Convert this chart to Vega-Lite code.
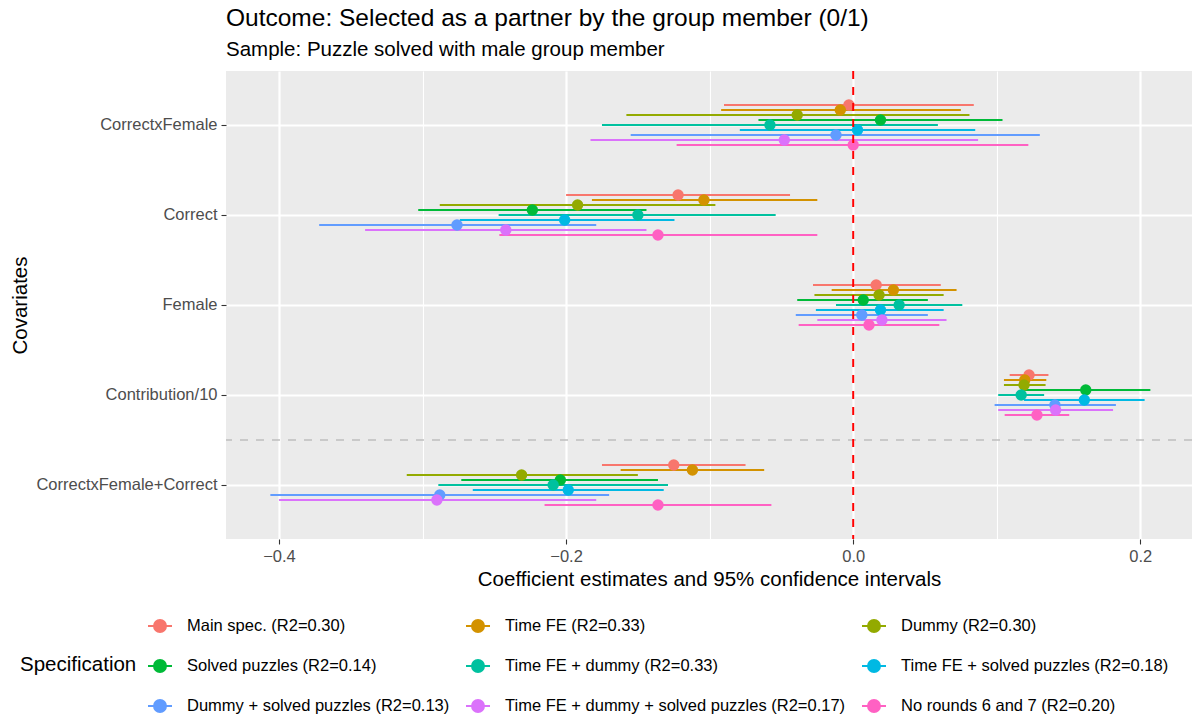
{
  "$schema": "https://vega.github.io/schema/vega-lite/v6.json",
  "autosize": {"type": "none"},
  "padding": {"left": 226, "top": 71, "right": 0, "bottom": 183},
  "width": 966,
  "height": 468,
  "title": {
    "text": "Outcome: Selected as a partner by the group member (0/1)",
    "subtitle": "Sample: Puzzle solved with male group member",
    "anchor": "start",
    "frame": "group",
    "font": "Liberation Sans",
    "fontSize": 24.5,
    "fontWeight": "normal",
    "color": "#000000",
    "subtitleFont": "Liberation Sans",
    "subtitleFontSize": 20.5,
    "subtitleColor": "#000000",
    "subtitlePadding": 8,
    "offset": 9
  },
  "config": {
    "view": {"fill": "#EBEBEB", "stroke": null},
    "font": "Liberation Sans"
  },
  "layer": [
    {
      "data": {
        "values": [
          {"covariate": "CorrectxFemale", "spec": "Main spec. (R2=0.30)", "estimate": -0.003, "lower": -0.090, "upper": 0.084},
          {"covariate": "CorrectxFemale", "spec": "Time FE (R2=0.33)", "estimate": -0.009, "lower": -0.092, "upper": 0.075},
          {"covariate": "CorrectxFemale", "spec": "Dummy (R2=0.30)", "estimate": -0.039, "lower": -0.158, "upper": 0.081},
          {"covariate": "CorrectxFemale", "spec": "Solved puzzles (R2=0.14)", "estimate": 0.019, "lower": -0.066, "upper": 0.104},
          {"covariate": "CorrectxFemale", "spec": "Time FE + dummy (R2=0.33)", "estimate": -0.058, "lower": -0.175, "upper": 0.059},
          {"covariate": "CorrectxFemale", "spec": "Time FE + solved puzzles (R2=0.18)", "estimate": 0.003, "lower": -0.079, "upper": 0.085},
          {"covariate": "CorrectxFemale", "spec": "Dummy + solved puzzles (R2=0.13)", "estimate": -0.012, "lower": -0.155, "upper": 0.130},
          {"covariate": "CorrectxFemale", "spec": "Time FE + dummy + solved puzzles (R2=0.17)", "estimate": -0.048, "lower": -0.183, "upper": 0.087},
          {"covariate": "CorrectxFemale", "spec": "No rounds 6 and 7 (R2=0.20)", "estimate": 0.000, "lower": -0.123, "upper": 0.122},

          {"covariate": "Correct", "spec": "Main spec. (R2=0.30)", "estimate": -0.122, "lower": -0.200, "upper": -0.044},
          {"covariate": "Correct", "spec": "Time FE (R2=0.33)", "estimate": -0.104, "lower": -0.182, "upper": -0.025},
          {"covariate": "Correct", "spec": "Dummy (R2=0.30)", "estimate": -0.192, "lower": -0.288, "upper": -0.096},
          {"covariate": "Correct", "spec": "Solved puzzles (R2=0.14)", "estimate": -0.2235, "lower": -0.303, "upper": -0.144},
          {"covariate": "Correct", "spec": "Time FE + dummy (R2=0.33)", "estimate": -0.150, "lower": -0.247, "upper": -0.054},
          {"covariate": "Correct", "spec": "Time FE + solved puzzles (R2=0.18)", "estimate": -0.201, "lower": -0.274, "upper": -0.1245},
          {"covariate": "Correct", "spec": "Dummy + solved puzzles (R2=0.13)", "estimate": -0.276, "lower": -0.372, "upper": -0.179},
          {"covariate": "Correct", "spec": "Time FE + dummy + solved puzzles (R2=0.17)", "estimate": -0.242, "lower": -0.340, "upper": -0.144},
          {"covariate": "Correct", "spec": "No rounds 6 and 7 (R2=0.20)", "estimate": -0.136, "lower": -0.2465, "upper": -0.025},

          {"covariate": "Female", "spec": "Main spec. (R2=0.30)", "estimate": 0.016, "lower": -0.028, "upper": 0.061},
          {"covariate": "Female", "spec": "Time FE (R2=0.33)", "estimate": 0.028, "lower": -0.015, "upper": 0.072},
          {"covariate": "Female", "spec": "Dummy (R2=0.30)", "estimate": 0.018, "lower": -0.027, "upper": 0.063},
          {"covariate": "Female", "spec": "Solved puzzles (R2=0.14)", "estimate": 0.007, "lower": -0.039, "upper": 0.052},
          {"covariate": "Female", "spec": "Time FE + dummy (R2=0.33)", "estimate": 0.032, "lower": -0.012, "upper": 0.076},
          {"covariate": "Female", "spec": "Time FE + solved puzzles (R2=0.18)", "estimate": 0.019, "lower": -0.026, "upper": 0.063},
          {"covariate": "Female", "spec": "Dummy + solved puzzles (R2=0.13)", "estimate": 0.006, "lower": -0.040, "upper": 0.052},
          {"covariate": "Female", "spec": "Time FE + dummy + solved puzzles (R2=0.17)", "estimate": 0.020, "lower": -0.025, "upper": 0.065},
          {"covariate": "Female", "spec": "No rounds 6 and 7 (R2=0.20)", "estimate": 0.011, "lower": -0.038, "upper": 0.060},

          {"covariate": "Contribution/10", "spec": "Main spec. (R2=0.30)", "estimate": 0.1225, "lower": 0.109, "upper": 0.136},
          {"covariate": "Contribution/10", "spec": "Time FE (R2=0.33)", "estimate": 0.1195, "lower": 0.105, "upper": 0.1345},
          {"covariate": "Contribution/10", "spec": "Dummy (R2=0.30)", "estimate": 0.119, "lower": 0.105, "upper": 0.134},
          {"covariate": "Contribution/10", "spec": "Solved puzzles (R2=0.14)", "estimate": 0.162, "lower": 0.117, "upper": 0.207},
          {"covariate": "Contribution/10", "spec": "Time FE + dummy (R2=0.33)", "estimate": 0.117, "lower": 0.101, "upper": 0.133},
          {"covariate": "Contribution/10", "spec": "Time FE + solved puzzles (R2=0.18)", "estimate": 0.161, "lower": 0.119, "upper": 0.203},
          {"covariate": "Contribution/10", "spec": "Dummy + solved puzzles (R2=0.13)", "estimate": 0.1405, "lower": 0.0985, "upper": 0.183},
          {"covariate": "Contribution/10", "spec": "Time FE + dummy + solved puzzles (R2=0.17)", "estimate": 0.141, "lower": 0.101, "upper": 0.181},
          {"covariate": "Contribution/10", "spec": "No rounds 6 and 7 (R2=0.20)", "estimate": 0.128, "lower": 0.1055, "upper": 0.1505},

          {"covariate": "CorrectxFemale+Correct", "spec": "Main spec. (R2=0.30)", "estimate": -0.125, "lower": -0.175, "upper": -0.075},
          {"covariate": "CorrectxFemale+Correct", "spec": "Time FE (R2=0.33)", "estimate": -0.112, "lower": -0.162, "upper": -0.062},
          {"covariate": "CorrectxFemale+Correct", "spec": "Dummy (R2=0.30)", "estimate": -0.231, "lower": -0.311, "upper": -0.150},
          {"covariate": "CorrectxFemale+Correct", "spec": "Solved puzzles (R2=0.14)", "estimate": -0.204, "lower": -0.273, "upper": -0.136},
          {"covariate": "CorrectxFemale+Correct", "spec": "Time FE + dummy (R2=0.33)", "estimate": -0.209, "lower": -0.289, "upper": -0.129},
          {"covariate": "CorrectxFemale+Correct", "spec": "Time FE + solved puzzles (R2=0.18)", "estimate": -0.1985, "lower": -0.265, "upper": -0.132},
          {"covariate": "CorrectxFemale+Correct", "spec": "Dummy + solved puzzles (R2=0.13)", "estimate": -0.288, "lower": -0.406, "upper": -0.170},
          {"covariate": "CorrectxFemale+Correct", "spec": "Time FE + dummy + solved puzzles (R2=0.17)", "estimate": -0.290, "lower": -0.400, "upper": -0.179},
          {"covariate": "CorrectxFemale+Correct", "spec": "No rounds 6 and 7 (R2=0.20)", "estimate": -0.136, "lower": -0.215, "upper": -0.057}
        ]
      },
      "encoding": {
        "y": {
          "field": "covariate",
          "type": "nominal",
          "scale": {
            "type": "band",
            "domain": ["CorrectxFemale", "Correct", "Female", "Contribution/10", "CorrectxFemale+Correct"],
            "paddingInner": 0,
            "paddingOuter": 0.1
          },
          "axis": {
            "orient": "left",
            "title": "Covariates",
            "grid": true,
            "gridColor": "#FFFFFF",
            "gridWidth": 2.2,
            "bandPosition": 0.5,
            "domain": false,
            "tickColor": "#333333",
            "tickSize": 5,
            "tickWidth": 1.1,
            "labelFontSize": 16.5,
            "labelColor": "#4D4D4D",
            "labelPadding": 4,
            "labelLimit": 400,
            "titleFontSize": 20.5,
            "titleFontWeight": "normal",
            "titleColor": "#000000",
            "titlePadding": 5
          }
        },
        "yOffset": {
          "field": "spec",
          "type": "nominal",
          "scale": {
            "domain": ["Main spec. (R2=0.30)", "Time FE (R2=0.33)", "Dummy (R2=0.30)", "Solved puzzles (R2=0.14)", "Time FE + dummy (R2=0.33)", "Time FE + solved puzzles (R2=0.18)", "Dummy + solved puzzles (R2=0.13)", "Time FE + dummy + solved puzzles (R2=0.17)", "No rounds 6 and 7 (R2=0.20)"],
            "range": [22.5, 67.5],
            "paddingInner": 0,
            "paddingOuter": 0
          }
        },
        "color": {
          "field": "spec",
          "type": "nominal",
          "scale": {
            "domain": ["Main spec. (R2=0.30)", "Time FE (R2=0.33)", "Dummy (R2=0.30)", "Solved puzzles (R2=0.14)", "Time FE + dummy (R2=0.33)", "Time FE + solved puzzles (R2=0.18)", "Dummy + solved puzzles (R2=0.13)", "Time FE + dummy + solved puzzles (R2=0.17)", "No rounds 6 and 7 (R2=0.20)"],
            "range": ["#F8766D", "#D39200", "#93AA00", "#00BA38", "#00C19F", "#00B9E3", "#619CFF", "#DB72FB", "#FF61C3"]
          },
          "legend": {
            "title": "Specification",
            "orient": "none",
            "legendX": -206,
            "legendY": 542,
            "direction": "horizontal",
            "columns": 3,
            "titleOrient": "left",
            "titleAnchor": "middle",
            "titleFontSize": 20.5,
            "titleFontWeight": "normal",
            "titleColor": "#000000",
            "titlePadding": 10,
            "labelFontSize": 16.5,
            "labelColor": "#000000",
            "labelLimit": 600,
            "labelOffset": 14,
            "symbolType": "M-1,0H1M-0.5,0A0.5,0.5,0,1,1,0.5,0A0.5,0.5,0,1,1,-0.5,0Z",
            "symbolSize": 576,
            "symbolStrokeWidth": 2,
            "symbolOpacity": 1,
            "rowPadding": 17,
            "columnPadding": 12,
            "encode": {
              "symbols": {
                "update": {
                  "stroke": {"scale": "color", "field": "value"},
                  "fill": {"scale": "color", "field": "value"}
                }
              }
            }
          }
        }
      },
      "layer": [
        {
          "mark": {"type": "rule", "strokeWidth": 2},
          "encoding": {
            "x": {
              "field": "lower",
              "type": "quantitative",
              "scale": {"domain": [-0.4369, 0.236], "nice": false, "zero": false},
              "axis": {
                "orient": "bottom",
                "values": [-0.3, -0.1, 0.1],
                "grid": true,
                "gridColor": "#FFFFFF",
                "gridWidth": 1.1,
                "labels": false,
                "ticks": false,
                "domain": false,
                "title": null
              }
            },
            "x2": {"field": "upper"}
          }
        },
        {
          "mark": {"type": "point", "filled": true, "opacity": 1, "size": 130},
          "encoding": {
            "x": {
              "field": "estimate",
              "type": "quantitative",
              "axis": {
                "orient": "bottom",
                "values": [-0.4, -0.2, 0, 0.2],
                "format": ".1f",
                "grid": true,
                "gridColor": "#FFFFFF",
                "gridWidth": 2.2,
                "domain": false,
                "labelFlush": false,
                "tickColor": "#333333",
                "tickSize": 5,
                "tickWidth": 1.1,
                "labelFontSize": 16.5,
                "labelColor": "#4D4D4D",
                "labelPadding": 4,
                "title": "Coefficient estimates and 95% confidence intervals",
                "titleFontSize": 20.5,
                "titleFontWeight": "normal",
                "titleColor": "#000000",
                "titlePadding": 5
              }
            }
          }
        }
      ],
      "resolve": {"axis": {"x": "independent"}}
    },
    {
      "data": {"values": [{}]},
      "mark": {"type": "rule", "color": "#BEBEBE", "strokeDash": [8, 8], "strokeWidth": 1.5},
      "encoding": {
        "y": {"datum": "CorrectxFemale+Correct", "type": "nominal", "bandPosition": 0}
      }
    },
    {
      "data": {"values": [{}]},
      "mark": {"type": "rule", "color": "#FF0000", "strokeDash": [8, 8], "strokeWidth": 2},
      "encoding": {
        "x": {"datum": 0, "type": "quantitative", "axis": null}
      }
    }
  ]
}
